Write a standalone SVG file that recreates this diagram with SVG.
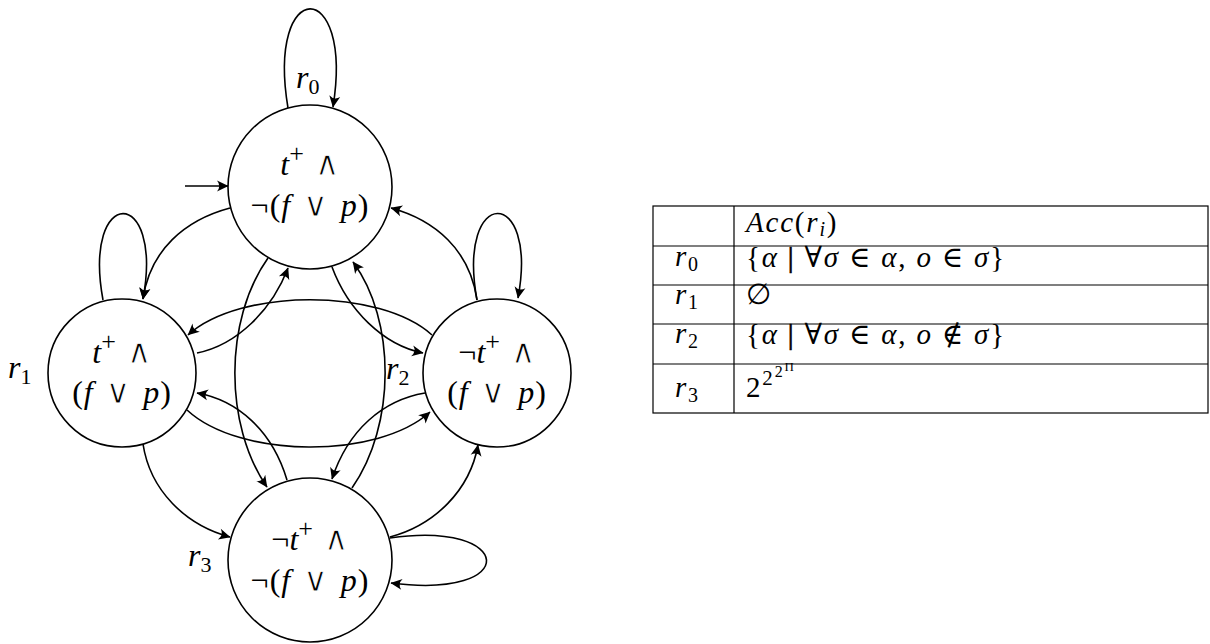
<svg xmlns="http://www.w3.org/2000/svg" width="1210" height="644" viewBox="0 0 1210 644" font-family="'Liberation Serif', 'Times New Roman', 'DejaVu Serif', serif">
<defs>
<style>
text{fill:#000;font-size:32px}
.it{font-style:italic}
.op{font-family:"DejaVu Sans",sans-serif;stroke:#fff;stroke-width:1px;font-size:34px}
.bar{stroke:#000;stroke-width:0.7px}
.node circle{fill:#fff;stroke:#000;stroke-width:1.6}
.edge{fill:none;stroke:#000;stroke-width:1.6;marker-end:url(#ah)}
.grid{stroke:#000;stroke-width:1.2;fill:none}
.tb{font-size:29px;letter-spacing:1.8px}
.sup{font-size:26px}
.sub{font-size:22px}
</style>
<marker id="ah" viewBox="-12 -6 13 12" refX="0" refY="0" markerWidth="13" markerHeight="12" orient="auto" markerUnits="userSpaceOnUse">
<path d="M0.5,0 L-11,-5.5 Q-6.5,0 -11,5.5 Z" fill="#000"/>
</marker>
</defs>
<rect width="1210" height="644" fill="#fff"/>

<g id="node-r0" class="node">
<circle cx="310" cy="187" r="82"/>
<text x="310" y="175" text-anchor="middle"><tspan class="it">t</tspan><tspan class="sup" dy="-13">+</tspan><tspan dy="13" class="op"> ∧</tspan></text>
<text x="310" y="216" text-anchor="middle" letter-spacing="1">¬(<tspan class="it">f</tspan><tspan class="op"> ∨ </tspan><tspan class="it">p</tspan>)</text>
<text x="296" y="88"><tspan class="it">r</tspan><tspan class="sub" dy="6">0</tspan></text>
</g>
<g id="node-r1" class="node">
<circle cx="122" cy="373" r="74"/>
<text x="122" y="363" text-anchor="middle"><tspan class="it">t</tspan><tspan class="sup" dy="-13">+</tspan><tspan dy="13" class="op"> ∧</tspan></text>
<text x="122" y="403" text-anchor="middle" letter-spacing="1">(<tspan class="it">f</tspan><tspan class="op"> ∨ </tspan><tspan class="it">p</tspan>)</text>
<text x="8" y="378"><tspan class="it">r</tspan><tspan class="sub" dy="6">1</tspan></text>
</g>
<g id="node-r2" class="node">
<circle cx="497" cy="373" r="74"/>
<text x="497" y="363" text-anchor="middle">¬<tspan class="it">t</tspan><tspan class="sup" dy="-13">+</tspan><tspan dy="13" class="op"> ∧</tspan></text>
<text x="497" y="403" text-anchor="middle" letter-spacing="1">(<tspan class="it">f</tspan><tspan class="op"> ∨ </tspan><tspan class="it">p</tspan>)</text>
<text x="386" y="379"><tspan class="it">r</tspan><tspan class="sub" dy="6">2</tspan></text>
</g>
<g id="node-r3" class="node">
<circle cx="310" cy="560" r="82"/>
<text x="310" y="550" text-anchor="middle">¬<tspan class="it">t</tspan><tspan class="sup" dy="-13">+</tspan><tspan dy="13" class="op"> ∧</tspan></text>
<text x="310" y="591" text-anchor="middle" letter-spacing="1">¬(<tspan class="it">f</tspan><tspan class="op"> ∨ </tspan><tspan class="it">p</tspan>)</text>
<text x="188" y="566"><tspan class="it">r</tspan><tspan class="sub" dy="6">3</tspan></text>
</g>

<g id="connectors">
<path class="edge" d="M185,186 L228,186"/>
<path class="edge" d="M288,108 C266,-24 354,-24 333,107"/>
<path class="edge" d="M230,208 C185,220 150,250 143,299"/>
<path class="edge" d="M103,300 C82,185 164,185 143,299"/>
<path class="edge" d="M477,300 C470,250 435,220 391,208"/>
<path class="edge" d="M477,300 C456,185 539,185 518,298"/>
<path class="edge" d="M332,267 C348,310 383,345 423,353"/>
<path class="edge" d="M197,353 C237,345 272,310 288,268"/>
<path class="edge" d="M432,335 C380,288 240,288 188,335"/>
<path class="edge" d="M187,410 C240,459 378,459 430,412"/>
<path class="edge" d="M425,393 C383,400 348,430 332,479"/>
<path class="edge" d="M287,480 C272,430 237,400 197,393"/>
<path class="edge" d="M268,258 C224,320 224,425 267,487"/>
<path class="edge" d="M352,488 C396,425 396,320 353,262"/>
<path class="edge" d="M143,444 C150,490 185,525 230,537"/>
<path class="edge" d="M390,537 C435,525 470,490 478,445"/>
<path class="edge" d="M390,538 C515,520 522,600 391,583"/>
</g>

<g id="table">
<rect class="grid" x="653" y="206" width="555" height="207"/>
<path class="grid" d="M734,206 V413 M653,246 H1208 M653,285 H1208 M653,324 H1208 M653,364 H1208"/>
<text class="tb" x="746" y="232"><tspan class="it">Acc</tspan>(<tspan class="it">r</tspan><tspan class="it" font-size="20" dy="4">i</tspan><tspan dy="-4">)</tspan></text>
<text class="tb" x="675" y="266"><tspan class="it">r</tspan><tspan font-size="20" dy="5">0</tspan></text>
<text class="tb" x="675" y="304"><tspan class="it">r</tspan><tspan font-size="20" dy="5">1</tspan></text>
<text class="tb" x="675" y="343"><tspan class="it">r</tspan><tspan font-size="20" dy="5">2</tspan></text>
<text class="tb" x="675" y="397"><tspan class="it">r</tspan><tspan font-size="20" dy="5">3</tspan></text>
<text class="tb" x="746" y="267">{<tspan class="it">α</tspan> <tspan class="bar">|</tspan> ∀<tspan class="it">σ</tspan> ∈ <tspan class="it">α</tspan>, <tspan class="it">o</tspan> ∈ <tspan class="it">σ</tspan>}</text>
<text class="tb" x="746" y="304">∅</text>
<text class="tb" x="746" y="344">{<tspan class="it">α</tspan> <tspan class="bar">|</tspan> ∀<tspan class="it">σ</tspan> ∈ <tspan class="it">α</tspan>, <tspan class="it">o</tspan> ∉ <tspan class="it">σ</tspan>}</text>
<text class="tb" x="746" y="397" letter-spacing="0">2<tspan font-size="21" dy="-12">2</tspan><tspan font-size="16" dy="-8">2</tspan><tspan font-size="13" dy="-6">Π</tspan></text>
</g>
</svg>
